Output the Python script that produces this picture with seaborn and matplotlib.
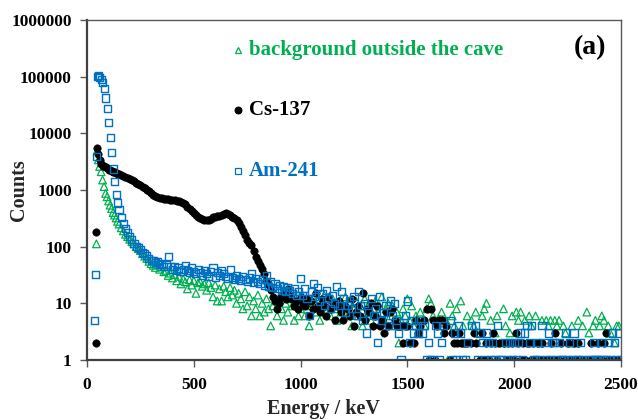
import numpy as np
import pandas as pd
import matplotlib
matplotlib.use("Agg")
import matplotlib.pyplot as plt
import seaborn as sns

# ---------------- data ----------------
energy_kev = (
    [36, 40, 44, 48, 53, 59, 66, 73, 80, 87, 94, 101, 108, 115, 122, 129, 136, 143, 150]
    + [160, 170, 180, 190, 200, 210, 220, 230, 240, 250]
    + [260, 270, 280, 290, 300, 310, 320, 330, 340, 350]
    + [360, 370, 380, 390, 400, 410, 420, 430, 440, 450]
    + [460, 470, 480, 490, 500, 510, 520, 530, 540, 550]
    + [560, 570, 580, 590, 600, 610, 620, 630, 640, 650]
    + [660, 670, 680, 690, 700, 710, 720, 730, 740, 750]
    + [760, 770, 780, 790, 800, 810, 820, 830, 840, 850]
    + [860, 870, 880, 890, 900, 910, 920, 930, 940, 950]
    + [960, 970, 980, 990, 1000, 1010, 1020, 1030, 1040, 1050]
    + [1060, 1070, 1080, 1090, 1100, 1110, 1120, 1130, 1140, 1150]
    + [1160, 1170, 1180, 1190, 1200, 1210, 1220, 1230, 1240, 1250]
    + [1260, 1270, 1280, 1290, 1300, 1310, 1320, 1330, 1340, 1350]
    + [1360, 1370, 1380, 1390, 1400, 1410, 1420, 1430, 1440, 1450]
    + [1460, 1470, 1480, 1490, 1500, 1510, 1520, 1530, 1540, 1550]
    + [1560, 1570, 1580, 1590, 1600, 1610, 1620, 1630, 1640, 1650]
    + [1660, 1670, 1680, 1690, 1700, 1710, 1720, 1730, 1740, 1750]
    + [1760, 1770, 1780, 1790, 1800, 1810, 1820, 1830, 1840, 1850]
    + [1860, 1870, 1880, 1890, 1900, 1910, 1920, 1930, 1940, 1950]
    + [1960, 1970, 1980, 1990, 2000, 2010, 2020, 2030, 2040, 2050]
    + [2060, 2070, 2080, 2090, 2100, 2110, 2120, 2130, 2140, 2150]
    + [2160, 2170, 2180, 2190, 2200, 2210, 2220, 2230, 2240, 2250]
    + [2260, 2270, 2280, 2290, 2300, 2310, 2320, 2330, 2340, 2350]
    + [2360, 2370, 2380, 2390, 2400, 2410, 2420, 2430, 2440, 2450]
    + [2460, 2470, 2480, 2490, 2500]
)

background_counts = (
    [0, 0, 112, 5000, 3400, 2600, 2100, 1500, 1150, 870, 760, 640, 540, 470, 400, 360, 320, 280, 250]
    + [215, 190, 165, 150, 135, 122, 112, 100, 92, 85]
    + [75, 68, 62, 55, 50, 47, 43, 48, 40, 44]
    + [36, 38, 31, 34, 28, 32, 25, 30, 22, 27]
    + [24, 18, 26, 21, 25, 15, 23, 24, 20, 22]
    + [17, 23, 19, 13, 21, 11, 18, 11, 20, 16]
    + [13, 19, 14, 17, 10, 15, 12, 8, 16, 9]
    + [13, 6, 11, 8, 14, 6, 10, 7, 12, 8]
    + [4, 9, 11, 6, 13, 8, 5, 10, 7, 12]
    + [9, 5, 11, 6, 8, 13, 6, 10, 4, 9]
    + [12, 7, 11, 5, 9, 14, 7, 10, 6, 12]
    + [8, 5, 11, 7, 9, 13, 6, 10, 4, 8]
    + [11, 6, 9, 4, 12, 7, 10, 5, 8, 11]
    + [6, 9, 13, 5, 8, 10, 6, 9, 4, 7]
    + [2, 5, 8, 6, 12, 5, 9, 4, 6, 3]
    + [7, 5, 4, 8, 12, 10, 6, 0, 5, 0]
    + [7, 0, 5, 1, 10, 6, 4, 8, 0, 11]
    + [4, 0, 6, 0, 5, 4, 7, 0, 3, 6]
    + [8, 10, 0, 5, 0, 3, 6, 0, 2, 8]
    + [4, 0, 3, 6, 0, 7, 5, 7, 0, 5]
    + [0, 6, 4, 0, 6, 0, 2, 5, 0, 5]
    + [4, 5, 0, 5, 4, 5, 0, 4, 3, 0]
    + [2, 4, 0, 2, 5, 0, 4, 0, 7, 3]
    + [0, 4, 5, 0, 4, 6, 5, 0, 4, 3]
    + [0, 2, 4, 4, 0]
)

cs137_counts = (
    [0, 2, 182, 5600, 4300, 3400, 2900, 2700, 2600, 2500, 2400, 2300, 2250, 2200, 2100, 2050, 2000, 1950, 1900]
    + [1850, 1750, 1680, 1620, 1560, 1480, 1420, 1350, 1280, 1220]
    + [1150, 1100, 1020, 950, 880, 820, 780, 760, 730, 710]
    + [700, 690, 680, 670, 665, 660, 650, 640, 620, 590]
    + [560, 510, 460, 420, 390, 360, 340, 320, 310, 300]
    + [295, 300, 310, 330, 340, 345, 350, 365, 380, 385]
    + [380, 365, 340, 320, 300, 260, 225, 190, 160, 130]
    + [115, 105, 85, 65, 55, 48, 40, 33, 25, 21]
    + [17, 13, 11, 8, 10, 13, 16, 12, 18, 14]
    + [12, 9, 11, 8, 13, 10, 9, 12, 6, 11]
    + [8, 15, 9, 7, 12, 9, 6, 13, 8, 10]
    + [5, 9, 11, 7, 5, 9, 8, 6, 12, 4]
    + [7, 9, 6, 15, 5, 8, 7, 10, 4, 6]
    + [9, 4, 5, 3, 7, 4, 7, 8, 5, 4]
    + [4, 4, 2, 4, 4, 2, 0, 2, 5, 3]
    + [4, 0, 5, 8, 1, 8, 5, 1, 4, 5]
    + [5, 3, 4, 0, 1, 3, 2, 2, 3, 2]
    + [2, 2, 2, 0, 2, 3, 2, 0, 1, 3]
    + [1, 2, 1, 2, 3, 2, 1, 2, 0, 2]
    + [1, 2, 1, 2, 1, 3, 2, 1, 2, 1]
    + [2, 2, 1, 2, 1, 2, 1, 2, 1, 1]
    + [1, 2, 1, 3, 1, 1, 2, 0, 1, 2]
    + [1, 1, 2, 1, 2, 1, 1, 0, 0, 1]
    + [2, 1, 1, 2, 1, 1, 2, 3, 1, 1]
    + [0, 1, 1, 1, 0]
)

am241_counts = (
    [5, 32, 3900, 100000, 105000, 95000, 88000, 78000, 61000, 42000, 27000, 15500, 8600, 4600, 2350, 1390, 830, 590, 460]
    + [330, 260, 210, 180, 150, 135, 115, 100, 95, 88]
    + [80, 75, 70, 62, 58, 56, 52, 55, 48, 50]
    + [45, 48, 66, 44, 40, 45, 38, 42, 36, 40]
    + [47, 38, 35, 42, 37, 33, 40, 35, 31, 38]
    + [34, 30, 37, 42, 29, 35, 31, 38, 34, 30]
    + [27, 40, 29, 26, 31, 27, 25, 30, 26, 24]
    + [28, 33, 23, 27, 24, 22, 26, 21, 31, 20]
    + [24, 19, 22, 18, 21, 17, 20, 16, 19, 17]
    + [15, 18, 14, 16, 27, 14, 18, 12, 6, 16]
    + [22, 13, 19, 11, 15, 9, 17, 12, 8, 14]
    + [10, 20, 9, 16, 12, 7, 9, 11, 8, 13]
    + [6, 16, 9, 5, 10, 3, 7, 12, 6, 8]
    + [2, 13, 5, 7, 9, 4, 11, 6, 10, 5]
    + [3, 1, 4, 6, 11, 2, 5, 3, 4, 3]
    + [5, 3, 4, 1, 2, 1, 1, 4, 3, 1]
    + [2, 4, 0, 0, 5, 1, 3, 1, 4, 3]
    + [1, 1, 2, 0, 4, 0, 4, 1, 3, 2]
    + [1, 3, 2, 1, 2, 1, 4, 1, 1, 0]
    + [2, 1, 2, 1, 2, 1, 2, 3, 1, 3]
    + [4, 2, 4, 1, 1, 2, 1, 4, 2, 1]
    + [3, 1, 2, 2, 1, 2, 1, 1, 3, 1]
    + [2, 1, 3, 1, 1, 2, 1, 0, 0, 1]
    + [1, 2, 1, 1, 1, 2, 1, 1, 2, 1]
    + [3, 2, 1, 3, 1]
)

series_labels = ["background outside the cave", "Cs-137", "Am-241"]
x_ticks = [0, 500, 1000, 1500, 2000, 2500]
y_ticks = [1, 10, 100, 1000, 10000, 100000, 1000000]
y_tick_labels = ["1", "10", "100", "1000", "10000", "100000", "1000000"]

assert len(energy_kev) == len(background_counts) == len(cs137_counts) == len(am241_counts), (
    len(energy_kev), len(background_counts), len(cs137_counts), len(am241_counts))

# ---------------- styling ----------------
GREEN = "#00B050"
BLUE = "#0070C0"
BLACK = "#000000"

sns.set_theme(style="white")
plt.rcParams["font.family"] = ["Liberation Serif", "DejaVu Serif"]
plt.rcParams["font.weight"] = "bold"

frames = []
for lab, cnt in zip(series_labels, [background_counts, cs137_counts, am241_counts]):
    frames.append(pd.DataFrame({"Energy": energy_kev, "Counts": cnt, "series": lab}))
df = pd.concat(frames, ignore_index=True)
df = df[df["Counts"] > 0]

fig = plt.figure(figsize=(6.38, 4.20), dpi=100)
ax = fig.add_axes([87 / 638, 60 / 420, 534 / 638, 340 / 420])

bg = df[df["series"] == series_labels[0]]
cs = df[df["series"] == series_labels[1]]
am = df[df["series"] == series_labels[2]]

sns.scatterplot(data=bg, x="Energy", y="Counts", ax=ax, marker="^", s=30,
                facecolor="none", edgecolor=GREEN, linewidth=0.9, legend=False)
sns.scatterplot(data=cs, x="Energy", y="Counts", ax=ax, marker="o", s=28,
                color=BLACK, edgecolor=BLACK, linewidth=0.5, legend=False)
sns.scatterplot(data=am, x="Energy", y="Counts", ax=ax, marker="s", s=26,
                facecolor="none", edgecolor=BLUE, linewidth=1.0, legend=False)

ax.set_yscale("log")
ax.set_xlim(0, 2500)
ax.set_ylim(1, 1000000)
ax.set_xticks(x_ticks)
ax.set_xticklabels([str(t) for t in x_ticks])
ax.set_yticks(y_ticks)
ax.set_yticklabels(y_tick_labels)
ax.minorticks_off()
ax.yaxis.set_minor_locator(matplotlib.ticker.NullLocator())

ax.tick_params(axis="both", which="major", direction="out", length=5, width=1,
               color="#595959", labelsize=12.5, labelcolor="black",
               bottom=True, left=True)
ax.tick_params(axis="y", pad=6)
ax.tick_params(axis="x", pad=7)
for lbl in ax.get_xticklabels() + ax.get_yticklabels():
    lbl.set_fontweight("bold")

ax.set_xlabel("Energy / keV", fontsize=14.5, fontweight="bold")
ax.set_ylabel("Counts", fontsize=14.5, fontweight="bold")
ax.xaxis.set_label_coords((323 - 87) / 534, (360 - 399) / 340)
ax.yaxis.set_label_coords((29 - 87) / 534, 0.5)

for side in ["left", "bottom"]:
    ax.spines[side].set_color("#404040")
    ax.spines[side].set_linewidth(1.6)
for side in ["top", "right"]:
    ax.spines[side].set_color("#595959")
    ax.spines[side].set_linewidth(1.0)
ax.grid(False)

# manual legend inside the axes
leg_x_marker = (238 - 87) / 534
leg_x_text = (249 - 87) / 534
leg_rows = [
    ((360 - 50) / 340, "^", GREEN, "none", series_labels[0]),
    ((360 - 110) / 340, "o", BLACK, BLACK, series_labels[1]),
    ((360 - 171) / 340, "s", BLUE, "none", series_labels[2]),
]
for yy, mk, col, fc, lab in leg_rows:
    ax.plot([leg_x_marker], [yy], marker=mk, markersize=4.8, markerfacecolor=fc,
            markeredgecolor=col, markeredgewidth=0.9, linestyle="none",
            transform=ax.transAxes, clip_on=False)
    ax.text(leg_x_text, yy, lab, transform=ax.transAxes, ha="left", va="center",
            fontsize=15, fontweight="bold", color=col)

ax.text((590 - 87) / 534, (360 - 48) / 340, "(a)", transform=ax.transAxes,
        ha="center", va="center", fontsize=20, fontweight="bold", color="black")

fig.savefig("out.png", dpi=100)
